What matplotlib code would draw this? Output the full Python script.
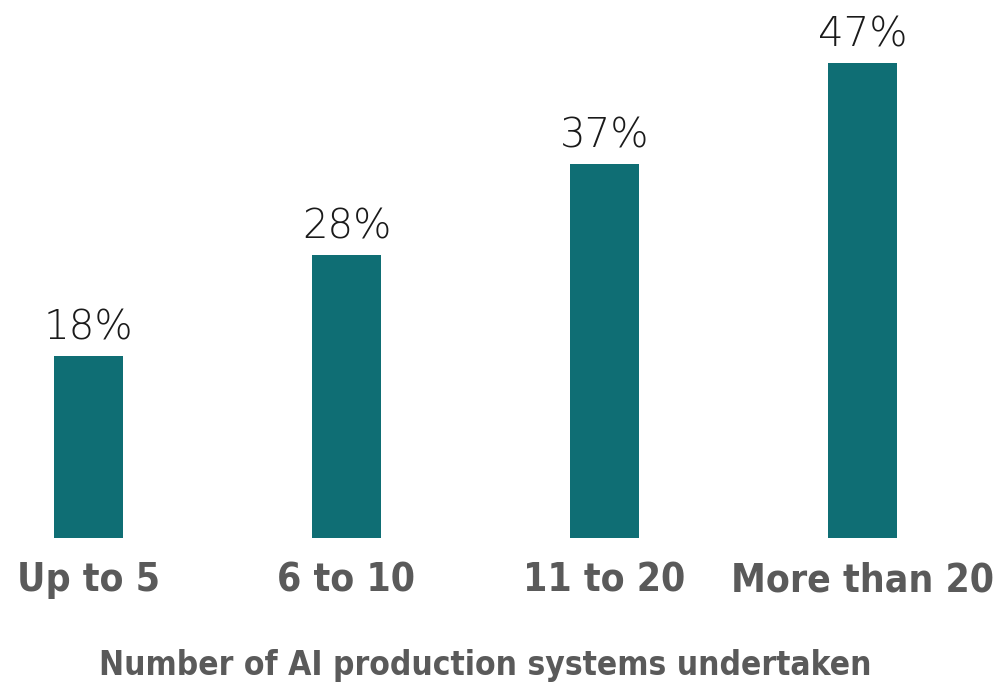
import matplotlib
matplotlib.use("Agg")
import matplotlib.pyplot as plt

# data
categories = ["Up to 5", "6 to 10", "11 to 20", "More than 20"]
values = [18, 28, 37, 47]
axis_label = "Number of AI production systems undertaken"

BAR_COLOR = "#0f6e74"
GREY = "#5a5a5a"

fig = plt.figure(figsize=(9.94, 6.88), dpi=100, facecolor="white")
ax = fig.add_axes([0, 0, 1, 1])
ax.set_xlim(-0.343, 3.51)
ax.set_ylim(-14.85, 53.27)
ax.axis("off")

x = list(range(len(categories)))
ax.bar(x, values, width=0.27, color=BAR_COLOR)

for xi, v in zip(x, values):
    ax.text(xi, v + 0.9, f"{v}%", ha="center", va="bottom",
            fontsize=29, color="#1a1a1a", family="DejaVu Sans",
            fontweight="light")

for xi, c in zip(x, categories):
    ax.text(xi, -4.2, c, ha="center", va="center", fontsize=28,
            color=GREY, family="DejaVu Sans", fontweight="bold",
            fontstretch="condensed")

fig.text(0.488, 1 - 665 / 688, axis_label, ha="center", va="center",
         fontsize=24, color=GREY, family="DejaVu Sans", fontweight="bold",
         fontstretch="condensed")

fig.savefig("out.png", dpi=100, facecolor="white")
